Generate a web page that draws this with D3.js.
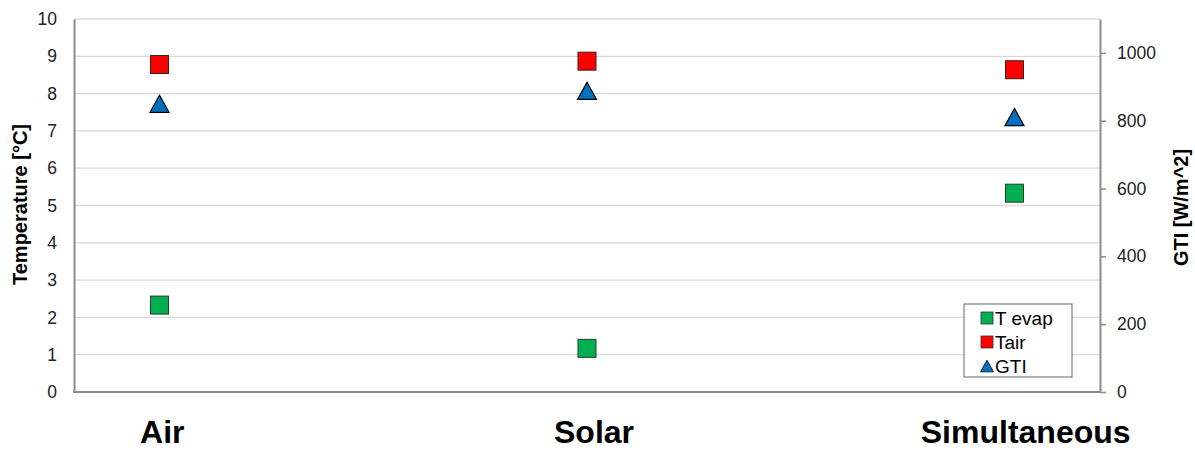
<!DOCTYPE html>
<html>
<head>
<meta charset="utf-8">
<script src="https://cdn.jsdelivr.net/npm/d3@7"></script>
<style>
  html, body { margin: 0; padding: 0; background: #fff; }
  svg { display: block; font-family: "Liberation Sans", Arial, sans-serif; }
</style>
</head>
<body>
<svg id="chart" width="1195" height="450"></svg>
<script>
// Operating modes and measured values
const categories = ["Air", "Solar", "Simultaneous"];
const tEvap = [2.33, 1.17, 5.33];      // °C
const tAir = [8.78, 8.87, 8.64];       // °C
const gti = [850, 888, 811];           // W/m^2
const leftTicks = [0, 1, 2, 3, 4, 5, 6, 7, 8, 9, 10];
const rightTicks = [0, 200, 400, 600, 800, 1000];
const legendLabels = ["T evap", "Tair", "GTI"];

const svg = d3.select("#chart");
const plot = { left: 74, right: 1100, top: 19, bottom: 392 };

const x = d3.scalePoint().domain(categories).range([plot.left, plot.right]).padding(0.2);
const xLabel = d3.scalePoint().domain(categories).range([plot.left + 2, plot.right + 12]).padding(0.2);
const yL = d3.scaleLinear().domain([0, 10]).range([plot.bottom, plot.top]);
const yR = d3.scaleLinear().domain([0, 1100]).range([plot.bottom, plot.top]);

// horizontal gridlines
svg.append("g").selectAll("line").data(leftTicks.filter(d => d > 0)).join("line")
  .attr("x1", plot.left).attr("x2", plot.right)
  .attr("y1", d => yL(d)).attr("y2", d => yL(d))
  .attr("stroke", "#d9d9d9").attr("stroke-width", 1.3);

// left axis
const gL = svg.append("g").attr("transform", `translate(${plot.left},0)`)
  .call(d3.axisLeft(yL).tickValues(leftTicks).tickSize(0).tickPadding(17).tickFormat(d3.format("d")));
gL.select(".domain").attr("stroke", "#8c8c8c").attr("stroke-width", 2);
gL.selectAll("text").attr("font-size", 17.5).attr("fill", "#222").attr("font-family", "Liberation Sans, Arial, sans-serif");

// right axis
const gR = svg.append("g").attr("transform", `translate(${plot.right},0)`)
  .call(d3.axisRight(yR).tickValues(rightTicks).tickSizeInner(6).tickSizeOuter(0).tickPadding(11).tickFormat(d3.format("d")));
gR.select(".domain").attr("stroke", "#8c8c8c").attr("stroke-width", 2);
gR.selectAll(".tick line").attr("stroke", "#8c8c8c").attr("stroke-width", 1.5);
gR.selectAll("text").attr("font-size", 17.5).attr("fill", "#222").attr("font-family", "Liberation Sans, Arial, sans-serif");

// bottom axis line
svg.append("line")
  .attr("x1", plot.left - 1).attr("x2", plot.right + 1)
  .attr("y1", plot.bottom).attr("y2", plot.bottom)
  .attr("stroke", "#8c8c8c").attr("stroke-width", 2);

// category labels
svg.append("g").selectAll("text").data(categories).join("text")
  .attr("x", d => xLabel(d)).attr("y", 443)
  .attr("text-anchor", "middle")
  .attr("font-size", 32).attr("font-weight", "bold").attr("fill", "#000")
  .text(d => d);

// axis titles
svg.append("text")
  .attr("transform", `translate(27,${(plot.top + plot.bottom) / 2 - 1}) rotate(-90)`)
  .attr("text-anchor", "middle").attr("font-size", 20).attr("font-weight", "bold").attr("fill", "#000")
  .text("Temperature [°C]");
svg.append("text")
  .attr("transform", `translate(1188,${(plot.top + plot.bottom) / 2 + 2}) rotate(-90)`)
  .attr("text-anchor", "middle").attr("font-size", 20).attr("font-weight", "bold").attr("fill", "#000")
  .text("GTI [W/m^2]");

const sq = 18;
// triangle centered on its bounding box
const triPath = (size) => {
  const w = size, h = size * 0.9;
  return `M0,${-h / 2}L${w / 2},${h / 2}L${-w / 2},${h / 2}Z`;
};

// T evap
svg.append("g").selectAll("rect").data(categories).join("rect")
  .attr("x", (d) => x(d) - sq / 2).attr("y", (d, i) => yL(tEvap[i]) - sq / 2)
  .attr("width", sq).attr("height", sq)
  .attr("fill", "#00B050").attr("stroke", "#2b3a2b").attr("stroke-width", 1);

// Tair
svg.append("g").selectAll("rect").data(categories).join("rect")
  .attr("x", (d) => x(d) - sq / 2).attr("y", (d, i) => yL(tAir[i]) - sq / 2)
  .attr("width", sq).attr("height", sq)
  .attr("fill", "#FF0000").attr("stroke", "#3a2020").attr("stroke-width", 1);

// GTI on secondary axis
svg.append("g").selectAll("path").data(categories).join("path")
  .attr("transform", (d, i) => `translate(${x(d)},${yR(gti[i])})`)
  .attr("d", triPath(19))
  .attr("fill", "#0070C0").attr("stroke", "#000").attr("stroke-width", 1.2);

// legend
const lg = svg.append("g").attr("transform", "translate(964,304)");
lg.append("rect").attr("width", 108).attr("height", 73)
  .attr("fill", "#fff").attr("stroke", "#666").attr("stroke-width", 1);
const colors = ["#00B050", "#FF0000", "#0070C0"];
legendLabels.forEach((lab, i) => {
  const cy = 14 + i * 24;
  if (i < 2) {
    lg.append("rect").attr("x", 17).attr("y", cy - 6).attr("width", 12).attr("height", 12)
      .attr("fill", colors[i]).attr("stroke", "#333").attr("stroke-width", 0.8);
  } else {
    lg.append("path").attr("transform", `translate(23,${cy})`).attr("d", triPath(13))
      .attr("fill", colors[i]).attr("stroke", "#000").attr("stroke-width", 0.8);
  }
  lg.append("text").attr("x", 31).attr("y", cy + 7)
    .attr("font-size", 19).attr("fill", "#000").text(lab);
});
</script>
</body>
</html>
